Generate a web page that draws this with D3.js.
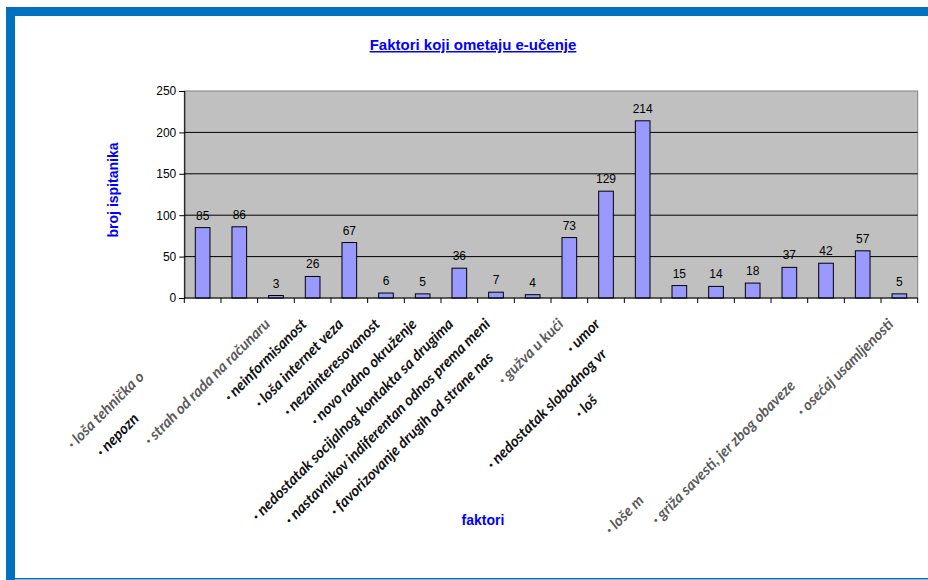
<!DOCTYPE html>
<html lang="sr">
<head>
    <meta charset="UTF-8">
    <title>Faktori koji ometaju e-učenje</title>
    <script src="https://d3js.org/d3.v7.min.js"></script>
    <style>
        body {
            margin: 0;
            background: #ffffff;
            font-family: "Liberation Sans", Arial, sans-serif;
        }
        .cat-label {
            font-family: Lato, "Open Sans", sans-serif;
            font-style: italic;
            font-weight: bold;
            font-size: 15px;
        }
    </style>
</head>
<body>
    <svg id="chart" width="928" height="580"></svg>

    <script>
        // data
        const categories = [
            "· loša tehnička opremljenost",
            "· nepoznavanje rada računara",
            "· strah od rada na računaru",
            "· neinformisanost",
            "· loša internet veza",
            "· nezainteresovanost",
            "· novo radno okruženje",
            "· nedostatak socijalnog kontakta sa drugima",
            "· nastavnikov indiferentan odnos prema meni",
            "· favorizovanje drugih od strane nastavnika",
            "· gužva u kući",
            "· umor",
            "· nedostatak slobodnog vremena",
            "· loša organizovanost",
            "",
            "",
            "",
            "· loše mogućnosti komunikacije sa nastavnikom",
            "· griža savesti, jer zbog obaveze zapostavljam",
            "· osećaj usamljenosti"
        ];
        // how many characters of each label are visible (the rest is cut off in the original)
        const visibleChars = [17, 8, null, null, null, null, null, null, null, 36, null, null, 25, 5, null, null, null, 8, 33, null];
        const values = [85, 86, 3, 26, 67, 6, 5, 36, 7, 4, 73, 129, 214, 15, 14, 18, 37, 42, 57, 5];
        const yTicks = [0, 50, 100, 150, 200, 250];

        // labels that look greyed out in the original
        const faded = new Set([0, 2, 10, 17, 18, 19]);

        const svg = d3.select("#chart");
        const W = 928, H = 580;
        const plot = {left: 184.3, right: 917.7, top: 91, bottom: 298};

        // blue frame
        svg.append("rect").attr("x", 6).attr("y", 7).attr("width", W - 6).attr("height", 9).attr("fill", "#0070c0");
        svg.append("rect").attr("x", 6).attr("y", 7).attr("width", 9).attr("height", H - 7).attr("fill", "#0070c0");
        svg.append("rect").attr("x", 15).attr("y", 578).attr("width", W - 15).attr("height", 1.5).attr("fill", "#0070c0");

        const x = d3.scaleBand()
            .domain(d3.range(categories.length))
            .range([plot.left, plot.right])
            .paddingInner(0.6)
            .paddingOuter(0.3);

        const y = d3.scaleLinear()
            .domain([0, 250])
            .range([plot.bottom, plot.top]);

        // plot background
        svg.append("rect")
            .attr("x", plot.left).attr("y", plot.top)
            .attr("width", plot.right - plot.left).attr("height", plot.bottom - plot.top)
            .attr("fill", "#c0c0c0")
            .attr("stroke", "#808080")
            .attr("stroke-width", 1);

        // gridlines
        svg.append("g")
            .selectAll("line")
            .data(yTicks.filter(d => d > 0 && d < 250))
            .join("line")
            .attr("x1", plot.left).attr("x2", plot.right)
            .attr("y1", d => y(d)).attr("y2", d => y(d))
            .attr("stroke", "#000")
            .attr("stroke-width", 1);

        // bars
        svg.append("g")
            .selectAll("rect")
            .data(values)
            .join("rect")
            .attr("x", (d, i) => x(i))
            .attr("y", d => y(d))
            .attr("width", x.bandwidth())
            .attr("height", d => y(0) - y(d))
            .attr("fill", "#9999ff")
            .attr("stroke", "#000")
            .attr("stroke-width", 1);

        // value labels
        svg.append("g")
            .selectAll("text")
            .data(values)
            .join("text")
            .attr("x", (d, i) => x(i) + x.bandwidth() / 2)
            .attr("y", d => y(d) - 8)
            .attr("text-anchor", "middle")
            .style("font-size", "12px")
            .style("fill", "#000")
            .text(d => d);

        // y axis
        const yAxis = svg.append("g")
            .attr("transform", `translate(${plot.left},0)`)
            .call(d3.axisLeft(y).tickValues(yTicks).tickSize(5).tickPadding(3));
        yAxis.select(".domain").attr("stroke", "#000");
        yAxis.selectAll("text").style("font-size", "12px").style("font-family", "'Liberation Sans', Arial, sans-serif").attr("fill", "#000");

        // x axis baseline with ticks at band edges
        svg.append("line")
            .attr("x1", plot.left).attr("x2", plot.right)
            .attr("y1", plot.bottom).attr("y2", plot.bottom)
            .attr("stroke", "#000");
        const step = x.step();
        svg.append("g")
            .selectAll("line")
            .data(d3.range(categories.length + 1))
            .join("line")
            .attr("x1", i => plot.left + i * step)
            .attr("x2", i => plot.left + i * step)
            .attr("y1", plot.bottom)
            .attr("y2", plot.bottom + 5)
            .attr("stroke", "#000");

        // rotated category labels, cut off the way the original is
        const labels = svg.append("g")
            .selectAll("text")
            .data(categories)
            .join("text")
            .attr("class", "cat-label")
            .attr("text-anchor", "end")
            .attr("transform", (d, i) => {
                const cx = x(i) + x.bandwidth() / 2 - 5;
                return `translate(${cx},${plot.bottom + 27}) rotate(-45)`;
            })
            .attr("fill", (d, i) => faded.has(i) ? "#5a5a5a" : "#111");

        labels.append("tspan")
            .text((d, i) => visibleChars[i] == null ? d : d.slice(0, visibleChars[i]));
        labels.append("tspan")
            .attr("fill-opacity", 0)
            .text((d, i) => visibleChars[i] == null ? "" : d.slice(visibleChars[i]));

        // titles
        svg.append("text")
            .attr("x", 473)
            .attr("y", 50)
            .attr("text-anchor", "middle")
            .style("font-size", "15px")
            .style("font-weight", "bold")
            .style("text-decoration", "underline")
            .attr("fill", "#0000ff")
            .text("Faktori koji ometaju e-učenje");

        svg.append("text")
            .attr("transform", "translate(118,190) rotate(-90)")
            .attr("text-anchor", "middle")
            .style("font-size", "14px")
            .style("font-weight", "bold")
            .attr("fill", "#0000ff")
            .text("broj ispitanika");

        svg.append("text")
            .attr("x", 483)
            .attr("y", 525)
            .attr("text-anchor", "middle")
            .style("font-size", "14px")
            .style("font-weight", "bold")
            .attr("fill", "#0000ff")
            .text("faktori");
    </script>
</body>
</html>
